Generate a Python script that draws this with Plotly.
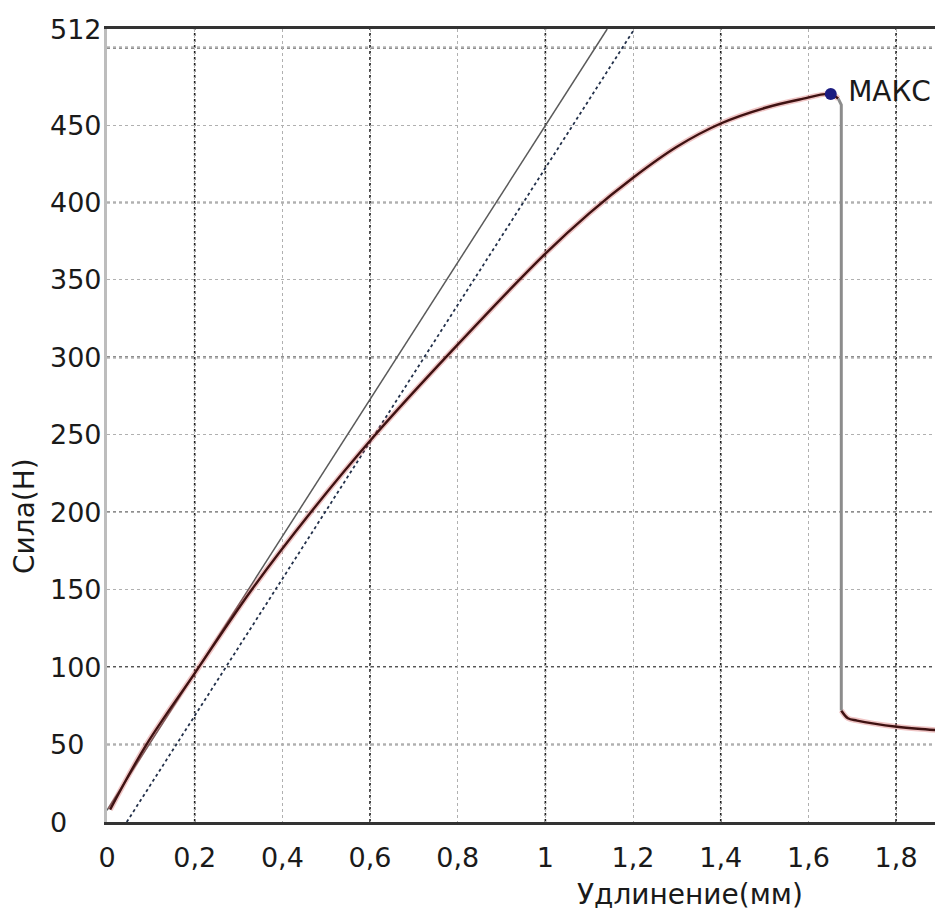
import plotly.graph_objects as go

# ---- data ----
curve_x = [0.007, 0.09, 0.2, 0.33, 0.465, 0.612, 0.786, 1.0, 1.1, 1.2, 1.3, 1.4, 1.5, 1.58, 1.651, 1.668]
curve_y = [8, 50, 96, 150, 200, 250, 304, 367, 393, 416, 436, 451, 461, 466.5, 470, 467]

drop_x = [1.668, 1.675, 1.675]
drop_y = [467, 463, 72]

tail_x = [1.675, 1.69, 1.711, 1.75, 1.802, 1.85, 1.91]
tail_y = [72, 67, 65.5, 63.5, 61.5, 60.2, 59]

tangent_x = [0.0, 1.141]
tangent_y = [7.6, 512]
offset_x = [0.045, 1.203]
offset_y = [0, 512]

peak_x = [1.651]
peak_y = [470]
peak_label = ["МАКС"]

x_ticks = [0, 0.2, 0.4, 0.6, 0.8, 1.0, 1.2, 1.4, 1.6, 1.8]
x_ticktext = ["0", "0,2", "0,4", "0,6", "0,8", "1", "1,2", "1,4", "1,6", "1,8"]
y_ticks = [0, 50, 100, 150, 200, 250, 300, 350, 400, 450, 512]
y_ticktext = ["0", "50", "100", "150", "200", "250", "300", "350", "400", "450", "512"]
y_grid = [0, 50, 100, 150, 200, 250, 300, 350, 400, 450, 500]

grid_x_dark = [0.2, 0.6, 1.0, 1.4, 1.8]
grid_y_dark = [50, 100, 200, 300, 400, 500]

x_title = "Удлинение(мм)"
y_title = "Сила(Н)"

FONT = "DejaVu Sans"

fig = go.Figure()

# tangent (elastic) line and offset line
fig.add_trace(go.Scatter(x=tangent_x, y=tangent_y, mode="lines",
                         line=dict(color="#5a5a5a", width=1.5), hoverinfo="skip", showlegend=False))
fig.add_trace(go.Scatter(x=offset_x, y=offset_y, mode="lines",
                         line=dict(color="#22304a", width=1.8, dash="dot"), hoverinfo="skip", showlegend=False))

# main curve: halo + core
for xs, ys in [(curve_x, curve_y), (tail_x, tail_y)]:
    fig.add_trace(go.Scatter(x=xs, y=ys, mode="lines",
                             line=dict(color="rgba(210,90,90,0.35)", width=5.5, shape="spline"),
                             hoverinfo="skip", showlegend=False))
    fig.add_trace(go.Scatter(x=xs, y=ys, mode="lines",
                             line=dict(color="#3f1212", width=2.4, shape="spline"),
                             showlegend=False))

# vertical drop
fig.add_trace(go.Scatter(x=drop_x, y=drop_y, mode="lines",
                         line=dict(color="#8c8c8c", width=3), showlegend=False))

# max point
fig.add_trace(go.Scatter(x=peak_x, y=peak_y, mode="markers+text", text=[" " + t for t in peak_label],
                         textposition="middle right",
                         textfont=dict(family=FONT, size=28, color="#1a1a1a"),
                         marker=dict(color="#1c1c80", size=12), showlegend=False))

shapes = []
for gx in grid_x_dark:
    shapes.append(dict(type="line", xref="x", yref="paper", x0=gx, x1=gx, y0=0, y1=1,
                       line=dict(color="#1e1e1e", width=1.6, dash="dot"), layer="below"))
for gy in grid_y_dark:
    shapes.append(dict(type="line", xref="paper", yref="y", x0=0, x1=1, y0=gy, y1=gy,
                       line=dict(color="#1e1e1e", width=1.6, dash="dot"), layer="below"))

annotations = []
for v, t in zip(y_ticks, y_ticktext):
    annotations.append(dict(text=t, xref="paper", yref="y", x=-0.0706, y=v,
                            xanchor="left", yanchor="middle", showarrow=False,
                            font=dict(family=FONT, size=27, color="#1a1a1a")))
annotations.append(dict(text=x_title, xref="paper", yref="paper", x=0.697, y=-0.092,
                        xanchor="center", yanchor="middle", showarrow=False,
                        font=dict(family=FONT, size=28, color="#1a1a1a")))
annotations.append(dict(text=y_title, xref="paper", yref="paper", x=-0.098, y=0.386,
                        xanchor="center", yanchor="middle", showarrow=False, textangle=-90,
                        font=dict(family=FONT, size=28, color="#1a1a1a")))

fig.update_layout(
    width=935, height=910,
    margin=dict(l=99, r=0, t=21, b=96),
    paper_bgcolor="white", plot_bgcolor="white",
    showlegend=False,
    shapes=shapes, annotations=annotations,
    xaxis=dict(range=[0, 1.907], tickvals=x_ticks, ticktext=x_ticktext,
               tickfont=dict(family=FONT, size=27, color="#1a1a1a"),
               ticks="", ticklabelstandoff=10,
               showgrid=True, gridcolor="#b0b0b0", griddash="dot", gridwidth=1,
               showline=True, linecolor="#333333", linewidth=3, mirror=True,
               zeroline=False, fixedrange=True),
    yaxis=dict(range=[0, 512], tickvals=y_grid, showticklabels=False, ticks="",
               showgrid=True, gridcolor="#b0b0b0", griddash="dot", gridwidth=1,
               showline=True, linecolor="#bdbdbd", linewidth=3,
               zeroline=False, fixedrange=True),
)

fig.write_html("out.html")
